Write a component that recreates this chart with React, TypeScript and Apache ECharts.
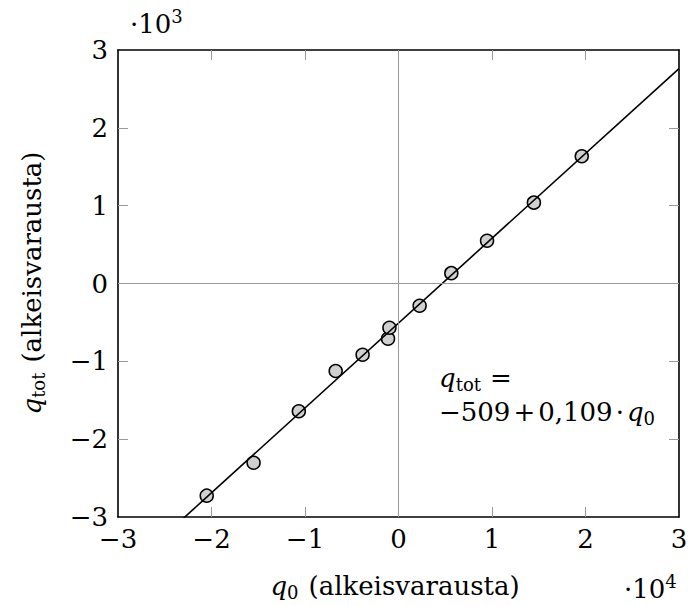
import React, { useEffect, useRef } from "react";
import * as echarts from "echarts";

// Measured charges: initial charge q0 and total charge q_tot (elementary charges)
const chargeQ0 = [-20510, -15500, -10660, -6720, -3840, -1120, -970, 2260, 5650, 9470, 14480, 19600];
const chargeTot = [-2726, -2303, -1641, -1124, -915, -709, -568, -286, 133, 549, 1039, 1635];

// Least-squares fit: q_tot = intercept + slope * q0
const fitIntercept = -509;
const fitSlope = 0.109;

// Axis ranges and tick values (raw units); labels are shown scaled by 10^4 / 10^3
const xRange = [-30000, 30000];
const yRange = [-3000, 3000];
const xStep = 10000;
const yStep = 1000;
const xLabelScale = 1e4;
const yLabelScale = 1e3;
const xInnerTicks = [-20000, -10000, 0, 10000, 20000];
const yInnerTicks = [-2000, -1000, 0, 1000, 2000];

const FONT = "DejaVu Serif";
const BIG = 26;
const SMALL = 18;

let measureCtx: CanvasRenderingContext2D | null = null;
function textWidth(t: string, size: number, italic?: boolean): number {
  if (!measureCtx) measureCtx = document.createElement("canvas").getContext("2d");
  if (!measureCtx) return t.length * size * 0.5;
  measureCtx.font = `${italic ? "italic " : ""}${size}px "${FONT}"`;
  return measureCtx.measureText(t).width;
}

type Seg = { t: string; it?: boolean; s?: number; dy?: number; gap?: number };

// Lays out a run of text pieces (with sub/superscripts) on a common baseline
function layoutRun(segs: Seg[], x0: number, base: number) {
  let x = x0;
  const els: any[] = [];
  for (const g of segs) {
    x += g.gap ?? 0;
    const s = g.s ?? BIG;
    els.push({
      type: "text",
      x,
      y: base + (g.dy ?? 0) - 0.34 * s,
      silent: true,
      style: {
        text: g.t,
        fontFamily: FONT,
        fontSize: s,
        fontStyle: g.it ? "italic" : "normal",
        fill: "#000",
        align: "left",
        verticalAlign: "middle",
      },
    });
    x += textWidth(g.t, s, g.it);
  }
  return { els, width: x - x0 };
}

function fmt(v: number, scale: number): string {
  const n = Math.round(v / scale);
  return n < 0 ? "\u2212" + Math.abs(n) : String(n);
}

export default function App() {
  const ref = useRef<HTMLDivElement>(null);

  useEffect(() => {
    if (!ref.current) return;
    const chart = echarts.init(ref.current, null, { renderer: "svg" });

    const points = chargeQ0.map((q, i) => [q, chargeTot[i]]);
    const fitLine = xRange.map((q) => [q, fitIntercept + fitSlope * q]);

    // Axis titles, multipliers and the fit annotation
    const yTitleSegs: Seg[] = [
      { t: "q", it: true },
      { t: "tot", s: SMALL, dy: 4 },
      { t: "(alkeisvarausta)", gap: 10 },
    ];
    const yTitleW = layoutRun(yTitleSegs, 0, 0).width;
    const yTitle = layoutRun(yTitleSegs, -yTitleW / 2, 0).els;

    const xTitleSegs: Seg[] = [
      { t: "q", it: true },
      { t: "0", s: SMALL, dy: 4 },
      { t: "(alkeisvarausta)", gap: 10 },
    ];
    const xTitleW = layoutRun(xTitleSegs, 0, 0).width;
    const xTitle = layoutRun(xTitleSegs, 395 - xTitleW / 2, 595).els;

    const topMult = layoutRun(
      [{ t: "\u00b7" }, { t: "10" }, { t: "3", s: SMALL, dy: -10 }],
      130,
      33
    ).els;
    const bottomMult = layoutRun(
      [{ t: "\u00b7" }, { t: "10" }, { t: "4", s: SMALL, dy: -10 }],
      624,
      598
    ).els;

    const eqLine1 = layoutRun(
      [{ t: "q", it: true }, { t: "tot", s: SMALL, dy: 4 }, { t: "=", gap: 9 }],
      439,
      387
    ).els;
    const eq2Parts: Seg[] = [
      { t: "\u2212509" },
      { t: "+" },
      { t: "0,109" },
      { t: "\u00b7" },
      { t: "q", it: true },
      { t: "0", s: SMALL, dy: 4 },
    ];
    const eq2Natural = layoutRun(eq2Parts, 0, 0).width;
    const eqGap = Math.max(3, (212 - eq2Natural) / 4);
    const eq2Segs = eq2Parts.map((p, i) => (i >= 1 && i <= 4 ? { ...p, gap: eqGap } : p));
    const eqLine2 = layoutRun(eq2Segs, 439, 421).els;

    const frameLine = { show: true, onZero: false, lineStyle: { color: "#000", width: 1.6 } };
    const tickStyle = { color: "#999", width: 1 };
    const labelStyle = {
      fontFamily: FONT,
      fontSize: BIG,
      color: "#000",
      showMinLabel: true,
      showMaxLabel: true,
    };

    chart.setOption({
      animation: false,
      grid: { left: 118, right: 9, top: 50, bottom: 89, containLabel: false, outerBoundsMode: "none" },
      xAxis: [
        {
          type: "value",
          position: "bottom",
          min: xRange[0],
          max: xRange[1],
          interval: xStep,
          axisLine: frameLine,
          axisTick: { show: true, inside: true, length: 10, lineStyle: tickStyle, customValues: xInnerTicks },
          axisLabel: { ...labelStyle, margin: 9, formatter: (v: number) => fmt(v, xLabelScale) },
          splitLine: { show: false },
        },
        {
          type: "value",
          position: "top",
          min: xRange[0],
          max: xRange[1],
          interval: xStep,
          axisLine: frameLine,
          axisTick: { show: true, inside: true, length: 10, lineStyle: tickStyle, customValues: xInnerTicks },
          axisLabel: { show: false },
          splitLine: { show: false },
        },
      ],
      yAxis: [
        {
          type: "value",
          position: "left",
          min: yRange[0],
          max: yRange[1],
          interval: yStep,
          axisLine: frameLine,
          axisTick: { show: true, inside: true, length: 10, lineStyle: tickStyle, customValues: yInnerTicks },
          axisLabel: { ...labelStyle, margin: 10, formatter: (v: number) => fmt(v, yLabelScale) },
          splitLine: { show: false },
        },
        {
          type: "value",
          position: "right",
          min: yRange[0],
          max: yRange[1],
          interval: yStep,
          axisLine: frameLine,
          axisTick: { show: true, inside: true, length: 10, lineStyle: tickStyle, customValues: yInnerTicks },
          axisLabel: { show: false },
          splitLine: { show: false },
        },
      ],
      series: [
        {
          type: "scatter",
          data: points,
          symbol: "circle",
          symbolSize: 13,
          itemStyle: { color: "#d0d0d0", borderColor: "#000", borderWidth: 1.5, opacity: 1 },
          z: 3,
          silent: true,
          markLine: {
            silent: true,
            symbol: "none",
            label: { show: false },
            lineStyle: { color: "#999", width: 1, type: "solid" },
            data: [{ xAxis: 0 }, { yAxis: 0 }],
            animation: false,
          },
        },
        {
          type: "line",
          data: fitLine,
          showSymbol: false,
          symbol: "none",
          clip: true,
          silent: true,
          lineStyle: { color: "#000", width: 1.6 },
          z: 4,
        },
      ],
      graphic: [
        { type: "group", x: 41, y: 283, rotation: Math.PI / 2, children: yTitle },
        ...xTitle,
        ...topMult,
        ...bottomMult,
        ...eqLine1,
        ...eqLine2,
      ],
    });

    return () => chart.dispose();
  }, []);

  return (
    <div
      ref={ref}
      style={{ position: "fixed", left: 0, top: 0, width: 688, height: 606, background: "#fff" }}
    />
  );
}
